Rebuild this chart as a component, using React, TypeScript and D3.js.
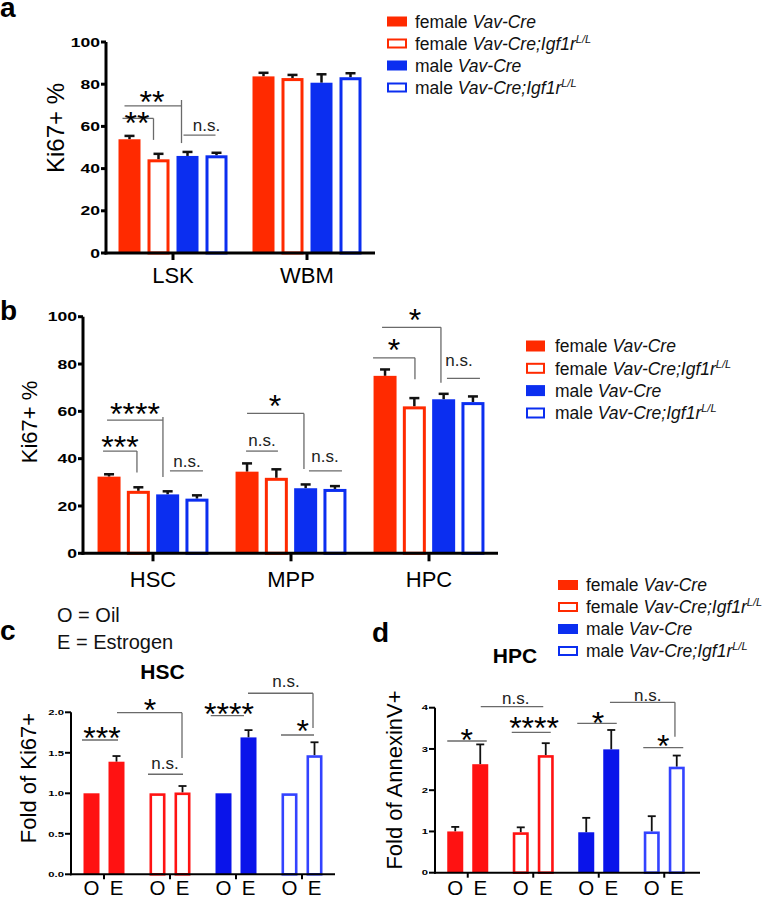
import React from "react";
import * as d3 from "d3";

const FONT = "'Liberation Sans', Arial, Helvetica, sans-serif";

// ---------- shared legend / series ----------
const seriesSex = ["female", "female", "male", "male"];
const seriesGenotype = ["Vav-Cre", "Vav-Cre;Igf1r", "Vav-Cre", "Vav-Cre;Igf1r"];
const seriesSup = ["", "L/L", "", "L/L"];
const seriesFilled = [true, false, true, false];
const seriesIsRed = [true, true, false, false];

// ---------- panel a ----------
const aGroups = ["LSK", "WBM"];
const aMeans = [
  [53.9, 44.4, 46.0, 46.3],
  [83.7, 82.9, 80.7, 83.3],
];
const aErrors = [
  [1.6, 2.6, 1.9, 1.2],
  [1.7, 1.5, 4.0, 1.9],
];
const aTicks = [0, 20, 40, 60, 80, 100];

// ---------- panel b ----------
const bGroups = ["HSC", "MPP", "HPC"];
const bMeans = [
  [32.4, 26.4, 24.9, 23.1],
  [34.5, 31.9, 27.5, 27.2],
  [75.0, 62.1, 65.1, 63.9],
];
const bErrors = [
  [1.0, 1.5, 1.3, 1.4],
  [3.5, 3.6, 1.6, 1.2],
  [2.7, 3.5, 2.3, 2.4],
];
const bTicks = [0, 20, 40, 60, 80, 100];

// ---------- panel c (HSC, fold of Ki67+) ----------
const treatLabels = ["O", "E"];
const cMeans = [
  [1.0, 1.39],
  [1.0, 1.01],
  [1.0, 1.69],
  [1.0, 1.47],
];
const cErrors = [
  [0, 0.07],
  [0, 0.08],
  [0, 0.09],
  [0, 0.16],
];
const cTicks = [0, 0.5, 1.0, 1.5, 2.0];

// ---------- panel d (HPC, fold of AnnexinV+) ----------
const dMeans = [
  [1.0, 2.63],
  [0.98, 2.85],
  [0.98, 2.99],
  [1.0, 2.57],
];
const dErrors = [
  [0.11, 0.48],
  [0.12, 0.29],
  [0.35, 0.47],
  [0.37, 0.27],
];
const dTicks = [0, 1, 2, 3, 4];

type Ref = [number, number, number];
type Ann = { x1: Ref; x2: Ref; y: number; drop?: [number, number]; text: string; tx: Ref; ty: number };

const aAnn: Ann[] = [
  { x1: [0, 0, -7], x2: [0, 1, -5], y: 63.8, drop: [63.8, 53.6], text: "**", tx: [0, 0, 7.5], ty: 65.4 },
  { x1: [0, 0, -5], x2: [0, 2, -6], y: 69.7, drop: [72.5, 52.1], text: "**", tx: [0, 1, -6.5], ty: 74.9 },
  { x1: [0, 2, -4], x2: [0, 3, -1], y: 55.9, text: "n.s.", tx: [0, 3, -10], ty: 57.8 },
];
const bAnn: Ann[] = [
  { x1: [0, 0, -6], x2: [0, 1, -1.4], y: 43.2, drop: [43.2, 34.1], text: "***", tx: [0, 0, 11], ty: 47.9 },
  { x1: [0, 0, -2], x2: [0, 2, -4.7], y: 56.3, drop: [57.6, 32.2], text: "****", tx: [0, 1, -3.4], ty: 62.2 },
  { x1: [0, 2, 2.3], x2: [0, 3, 6], y: 34.8, text: "n.s.", tx: [0, 2, 19.4], ty: 36.5 },
  { x1: [1, 0, -1], x2: [1, 1, 1.6], y: 43.2, text: "n.s.", tx: [1, 0, 15], ty: 45.3 },
  { x1: [1, 0, 0], x2: [1, 2, -1.7], y: 59.1, drop: [59.1, 35.6], text: "*", tx: [1, 1, -1.4], ty: 65.6 },
  { x1: [1, 2, 3.3], x2: [1, 3, 7], y: 34.8, text: "n.s.", tx: [1, 2, 19.4], ty: 38.4 },
  { x1: [2, 0, -12], x2: [2, 1, 0.6], y: 82.6, drop: [82.6, 73.6], text: "*", tx: [2, 0, 9], ty: 89 },
  { x1: [2, 0, -3], x2: [2, 2, -2.7], y: 95.5, drop: [95.5, 72.1], text: "*", tx: [2, 1, 0.6], ty: 101.9 },
  { x1: [2, 2, 3.3], x2: [2, 3, 7], y: 73.9, text: "n.s.", tx: [2, 2, 15.4], ty: 79.1 },
];
const cAnn: Ann[] = [
  { x1: [0, 0, -9.5], x2: [0, 1, 1.5], y: 1.658, text: "***", tx: [0, 0, 10.5], ty: 1.781 },
  { x1: [0, 1, 0.5], x2: [1, 1, -0.5], y: 1.995, drop: [1.995, 1.436], text: "*", tx: [1, 0, -7.5], ty: 2.115 },
  { x1: [1, 0, -9.5], x2: [1, 1, 0.5], y: 1.235, text: "n.s.", tx: [1, 0, 7.5], ty: 1.295 },
  { x1: [2, 0, -12.8], x2: [2, 1, -4.5], y: 1.958, text: "****", tx: [2, 0, 5.5], ty: 2.069 },
  { x1: [2, 1, -0.5], x2: [3, 1, -1.5], y: 2.235, drop: [2.235, 1.806], text: "n.s.", tx: [3, 0, -3.5], ty: 2.307 },
  { x1: [3, 0, -8.5], x2: [3, 1, -0.5], y: 1.72, text: "*", tx: [3, 1, -11.8], ty: 1.856 },
];
const dAnn: Ann[] = [
  { x1: [0, 0, -8], x2: [0, 1, 6.5], y: 3.193, text: "*", tx: [0, 0, 11.5], ty: 3.387 },
  { x1: [0, 1, 0.5], x2: [1, 1, -2.5], y: 4.024, text: "n.s.", tx: [1, 0, -5], ty: 4.08 },
  { x1: [1, 0, -9], x2: [1, 1, 5], y: 3.404, text: "****", tx: [1, 0, 13.3], ty: 3.7 },
  { x1: [2, 0, -9], x2: [2, 1, 5.5], y: 3.622, text: "*", tx: [2, 0, 11.8], ty: 3.823 },
  { x1: [2, 1, -1.3], x2: [3, 1, -1.8], y: 4.131, drop: [4.131, 3.297], text: "n.s.", tx: [3, 0, -4], ty: 4.16 },
  { x1: [3, 0, -8.5], x2: [3, 1, 6.5], y: 3.03, text: "*", tx: [3, 0, 11.5], ty: 3.258 },
];

const RED = "#ff2a00";
const BLUE = "#0b2ef0";
const RED2 = "#ff1212";
const BLUE2 = "#0a14ea";
const BLUE2_OUT = "#3343ff";
const ANN = "#6a6a6a";

interface PanelProps {
  means: number[][];
  errors: number[][];
  color: (g: number, s: number) => string;
  filled: (g: number, s: number) => boolean;
  bandRange: [number, number];
  axisX: number;
  axisEnd: number;
  yDomain: [number, number];
  yRange: [number, number];
  ticks: number[];
  fmt: (v: number) => string;
  barStep: number;
  barWidth: number;
  axisW: number;
  tickFont: number;
  tickScale: number;
  tickLen: number;
  xTickLen: number;
  errW: number;
  capHalf: number;
  outlineW: number;
  groupLabels?: string[];
  groupLabelSize?: number;
  groupLabelDy?: number;
  barLabels?: string[];
  barLabelSize?: number;
  barLabelDy?: number;
  anns: Ann[];
}

function Panel(p: PanelProps) {
  const y = d3.scaleLinear().domain(p.yDomain).range(p.yRange);
  const nG = p.means.length;
  const nB = p.means[0].length;
  const xg = d3.scaleBand<number>().domain(d3.range(nG)).range(p.bandRange).padding(0);
  const half = (p.barStep * nB) / 2;
  const pad = (p.barStep - p.barWidth) / p.barStep;
  const xs = d3.scaleBand<number>().domain(d3.range(nB)).range([-half, half]).paddingInner(pad).paddingOuter(pad / 2);
  const gc = (g: number) => (xg(g) as number) + xg.bandwidth() / 2;
  const bx = (g: number, s: number) => gc(g) + (xs(s) as number) + xs.bandwidth() / 2;
  const rx = (r: Ref) => bx(r[0], r[1]) + r[2];
  const y0 = y(0);
  const bw = xs.bandwidth();
  const ow = p.outlineW;

  return (
    <g>
      {p.means.map((row, g) =>
        row.map((v, s) => {
          const cx = bx(g, s);
          const top = y(v);
          const col = p.color(g, s);
          const e = p.errors[g][s];
          return (
            <g key={`b${g}-${s}`}>
              {e > 0 && (
                <g stroke="#111" strokeWidth={p.errW}>
                  <line x1={cx} x2={cx} y1={top} y2={y(v + e)} />
                  <line x1={cx - p.capHalf} x2={cx + p.capHalf} y1={y(v + e)} y2={y(v + e)} />
                </g>
              )}
              {p.filled(g, s) ? (
                <rect x={cx - bw / 2} y={top} width={bw} height={y0 - top} fill={col} />
              ) : (
                <rect
                  x={cx - bw / 2 + ow / 2}
                  y={top + ow / 2}
                  width={bw - ow}
                  height={y0 - top - ow / 2}
                  fill="#fff"
                  stroke={col}
                  strokeWidth={ow}
                />
              )}
            </g>
          );
        })
      )}
      <g stroke="#000" strokeWidth={p.axisW} fill="none">
        <line x1={p.axisX} x2={p.axisX} y1={y(p.yDomain[1])} y2={y0 + p.axisW / 2} />
        <line x1={p.axisX - p.axisW / 2} x2={p.axisEnd} y1={y0} y2={y0} />
        {p.ticks.map((t) => (
          <line key={`yt${t}`} x1={p.axisX - p.tickLen} x2={p.axisX} y1={y(t)} y2={y(t)} />
        ))}
        {d3.range(nG).map((g) => (
          <line key={`xt${g}`} x1={gc(g)} x2={gc(g)} y1={y0} y2={y0 + p.xTickLen} />
        ))}
      </g>
      {p.ticks.map((t) => (
        <text
          key={`yl${t}`}
          transform={`translate(${p.axisX - p.tickLen - 1},${y(t) + p.tickFont * 0.36}) scale(${p.tickScale},1)`}
          textAnchor="end"
          fontFamily={FONT}
          fontWeight="bold"
          fontSize={p.tickFont}
          fill="#000"
        >
          {p.fmt(t)}
        </text>
      ))}
      {p.groupLabels &&
        p.groupLabels.map((lab, g) => (
          <text key={`gl${g}`} x={gc(g)} y={y0 + (p.groupLabelDy || 30)} textAnchor="middle" fontFamily={FONT} fontSize={p.groupLabelSize} fill="#000">
            {lab}
          </text>
        ))}
      {p.barLabels &&
        d3.range(nG).map((g) =>
          p.barLabels!.map((lab, s) => (
            <text key={`bl${g}-${s}`} x={bx(g, s)} y={y0 + (p.barLabelDy || 22)} textAnchor="middle" fontFamily={FONT} fontSize={p.barLabelSize} fill="#000">
              {lab}
            </text>
          ))
        )}
      {p.anns.map((a, i) => {
        const isStar = a.text.indexOf("*") >= 0;
        const x2 = rx(a.x2);
        return (
          <g key={`an${i}`}>
            <line x1={rx(a.x1)} x2={x2} y1={y(a.y)} y2={y(a.y)} stroke={ANN} strokeWidth={1.3} />
            {a.drop && <line x1={x2} x2={x2} y1={y(a.drop[0])} y2={y(a.drop[1])} stroke={ANN} strokeWidth={1.3} />}
            <text
              x={rx(a.tx)}
              y={isStar ? y(a.ty) + 18.5 : y(a.ty)}
              textAnchor="middle"
              fontFamily={FONT}
              fontSize={isStar ? 32 : 17}
              fill={isStar ? "#000" : "#222"}
            >
              {a.text}
            </text>
          </g>
        );
      })}
    </g>
  );
}

function Legend({ x, tx, ys, sqW, sqH, red, blue, blueOut }: { x: number; tx: number; ys: number[]; sqW: number; sqH: number; red: string; blue: string; blueOut: string }) {
  return (
    <g>
      {ys.map((cy, i) => {
        const col = seriesIsRed[i] ? red : seriesFilled[i] ? blue : blueOut;
        return (
          <g key={`lg${i}`}>
            {seriesFilled[i] ? (
              <rect x={x} y={cy - sqH / 2} width={sqW} height={sqH} fill={col} />
            ) : (
              <rect x={x + 1} y={cy - sqH / 2 + 1} width={sqW - 2} height={sqH - 2} fill="#fff" stroke={col} strokeWidth={2} />
            )}
            <text x={tx} y={cy + 6.3} fontFamily={FONT} fontSize={17.5} fill="#111">
              {seriesSex[i] + " "}
              <tspan fontStyle="italic">{seriesGenotype[i]}</tspan>
              {seriesSup[i] && (
                <tspan fontStyle="italic" fontSize={11} dy={-7}>
                  {seriesSup[i]}
                </tspan>
              )}
            </text>
          </g>
        );
      })}
    </g>
  );
}

export default function App() {
  const colAB = (g: number, s: number) => (seriesIsRed[s] ? RED : BLUE);
  const fillAB = (g: number, s: number) => seriesFilled[s];
  const colCD = (g: number, s: number) => (seriesIsRed[g] ? RED2 : seriesFilled[g] ? BLUE2 : BLUE2_OUT);
  const fillCD = (g: number, s: number) => seriesFilled[g];
  const f0 = (v: number) => d3.format("d")(v);
  const f1 = (v: number) => d3.format(".1f")(v);

  return (
    <svg width={765} height={899} style={{ position: "absolute", left: 0, top: 0, background: "#fff" }}>
      <rect x={0} y={0} width={765} height={899} fill="#fff" />
      <text x={0} y={17} fontFamily={FONT} fontWeight="bold" fontSize={28}>a</text>
      <text x={0} y={320} fontFamily={FONT} fontWeight="bold" fontSize={28}>b</text>
      <text x={0} y={640} fontFamily={FONT} fontWeight="bold" fontSize={28}>c</text>
      <text x={372} y={642} fontFamily={FONT} fontWeight="bold" fontSize={28}>d</text>

      {/* panel a */}
      <text transform="translate(64,128) rotate(-90)" textAnchor="middle" fontFamily={FONT} fontSize={24}>Ki67+ %</text>
      <Panel
        means={aMeans} errors={aErrors} color={colAB} filled={fillAB}
        bandRange={[106, 374]} axisX={106} axisEnd={375}
        yDomain={[0, 100]} yRange={[253, 42]} ticks={aTicks} fmt={f0}
        barStep={29} barWidth={22} axisW={3} tickFont={13} tickScale={1.35} tickLen={5} xTickLen={7}
        errW={2.5} capHalf={5} outlineW={3}
        groupLabels={aGroups} groupLabelSize={22} groupLabelDy={30}
        anns={aAnn}
      />
      <Legend x={387} tx={415} ys={[21.5, 43.5, 65.5, 87.5]} sqW={20} sqH={10} red={RED} blue={BLUE} blueOut={BLUE} />

      {/* panel b */}
      <text transform="translate(37,422) rotate(-90)" textAnchor="middle" fontFamily={FONT} fontSize={22}>Ki67+ %</text>
      <Panel
        means={bMeans} errors={bErrors} color={colAB} filled={fillAB}
        bandRange={[84, 498]} axisX={83} axisEnd={498}
        yDomain={[0, 100]} yRange={[553.3, 316.7]} ticks={bTicks} fmt={f0}
        barStep={29.3} barWidth={23} axisW={3} tickFont={13} tickScale={1.35} tickLen={5} xTickLen={8}
        errW={2.5} capHalf={5} outlineW={3}
        groupLabels={bGroups} groupLabelSize={22} groupLabelDy={33.5}
        anns={bAnn}
      />
      <Legend x={526} tx={555} ys={[346, 368.3, 390.6, 413]} sqW={19} sqH={11} red={RED} blue={BLUE} blueOut={BLUE} />

      {/* panel c */}
      <text x={57} y={622} fontFamily={FONT} fontSize={20} fill="#111">O = Oil</text>
      <text x={57} y={649} fontFamily={FONT} fontSize={20} fill="#111">E = Estrogen</text>
      <text x={162.5} y={679} textAnchor="middle" fontFamily={FONT} fontWeight="bold" fontSize={21}>HSC</text>
      <text transform="translate(36,778) rotate(-90)" textAnchor="middle" fontFamily={FONT} fontSize={22}>Fold of Ki67+</text>
      <Panel
        means={cMeans} errors={cErrors} color={colCD} filled={fillCD}
        bandRange={[71, 335]} axisX={71} axisEnd={335}
        yDomain={[0, 2]} yRange={[874.3, 712.3]} ticks={cTicks} fmt={f1}
        barStep={25} barWidth={16} axisW={2} tickFont={7.5} tickScale={1.5} tickLen={6} xTickLen={5}
        errW={1.8} capHalf={4} outlineW={2.6}
        barLabels={treatLabels} barLabelSize={20.5} barLabelDy={20.2}
        anns={cAnn}
      />

      {/* panel d */}
      <text x={515} y={662.5} textAnchor="middle" fontFamily={FONT} fontWeight="bold" fontSize={21}>HPC</text>
      <text transform="translate(402,780) rotate(-90)" textAnchor="middle" fontFamily={FONT} fontSize={22}>Fold of AnnexinV+</text>
      <Panel
        means={dMeans} errors={dErrors} color={colCD} filled={fillCD}
        bandRange={[435, 697]} axisX={435} axisEnd={700}
        yDomain={[0, 4]} yRange={[872.7, 707.7]} ticks={dTicks} fmt={f0}
        barStep={25} barWidth={16} axisW={2} tickFont={7.5} tickScale={1.5} tickLen={6} xTickLen={5}
        errW={1.8} capHalf={4} outlineW={2.6}
        barLabels={treatLabels} barLabelSize={20.5} barLabelDy={21.8}
        anns={dAnn}
      />
      <Legend x={558} tx={586} ys={[585, 607, 629, 651]} sqW={20} sqH={10} red={RED} blue={BLUE} blueOut={BLUE} />
    </svg>
  );
}
